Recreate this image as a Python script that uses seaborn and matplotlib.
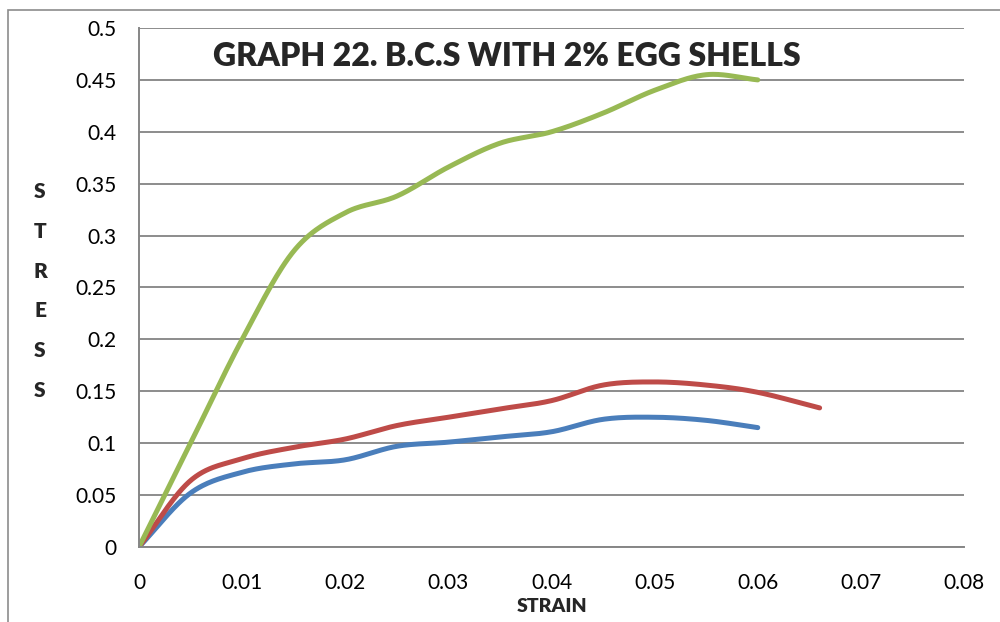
import numpy as np
import pandas as pd
import matplotlib
matplotlib.use("Agg")
import matplotlib.pyplot as plt
import matplotlib.patches as mpatches
import seaborn as sns

# Measured stress-strain readings
strain = [0, 0.005, 0.01, 0.015, 0.02, 0.025, 0.03, 0.035, 0.04, 0.045, 0.05, 0.055, 0.06]
strain_red = strain + [0.066]
stress_blue = [0, 0.052, 0.072, 0.080, 0.084, 0.097, 0.101, 0.106, 0.111, 0.123, 0.125, 0.122, 0.115]
stress_red = [0, 0.064, 0.085, 0.096, 0.104, 0.117, 0.125, 0.133, 0.141, 0.156, 0.159, 0.156, 0.149, 0.134]
stress_green = [0, 0.100, 0.200, 0.285, 0.322, 0.338, 0.366, 0.389, 0.400, 0.418, 0.440, 0.455, 0.450]

series_names = ["Sample 1", "Sample 2", "Sample 3"]
series_colors = ["#4A7EBB", "#BE4B48", "#98B954"]

x_ticks = [0, 0.01, 0.02, 0.03, 0.04, 0.05, 0.06, 0.07, 0.08]
y_ticks = [0, 0.05, 0.1, 0.15, 0.2, 0.25, 0.3, 0.35, 0.4, 0.45, 0.5]
x_tick_labels = ["0", "0.01", "0.02", "0.03", "0.04", "0.05", "0.06", "0.07", "0.08"]
y_tick_labels = ["0", "0.05", "0.1", "0.15", "0.2", "0.25", "0.3", "0.35", "0.4", "0.45", "0.5"]

title_text = "GRAPH 22. B.C.S WITH 2% EGG SHELLS"
x_label = "STRAIN"
y_label = "STRESS"


def smooth_curve(xs, ys, n=30):
    """Catmull-Rom spline through the readings (smoothed line rendering)."""
    p = np.column_stack([xs, ys]).astype(float)
    p = np.vstack([p[0] - (p[1] - p[0]), p, p[-1] + (p[-1] - p[-2])])
    out = []
    t = np.linspace(0, 1, n, endpoint=False)[:, None]
    for i in range(1, len(p) - 2):
        p0, p1, p2, p3 = p[i - 1], p[i], p[i + 1], p[i + 2]
        seg = 0.5 * ((2 * p1) + (-p0 + p2) * t + (2 * p0 - 5 * p1 + 4 * p2 - p3) * t ** 2
                     + (-p0 + 3 * p1 - 3 * p2 + p3) * t ** 3)
        out.append(seg)
    out.append(p[-2][None, :])
    c = np.vstack(out)
    return c[:, 0], c[:, 1]


frames = []
for name, xs, ys in zip(series_names, [strain, strain_red, strain],
                        [stress_blue, stress_red, stress_green]):
    sx, sy = smooth_curve(xs, ys)
    frames.append(pd.DataFrame({"strain": sx, "stress": sy, "series": name,
                                "order": np.arange(len(sx))}))
df = pd.concat(frames, ignore_index=True)

sns.set_theme(style="white")
plt.rcParams["font.family"] = ["Lato", "DejaVu Sans"]

fig = plt.figure(figsize=(10, 6.22), dpi=100)
ax = fig.add_axes([0.139, 0.1206, 0.825, 0.8344])

sns.lineplot(data=df, x="strain", y="stress", hue="series", units="series",
             estimator=None, sort=False, palette=series_colors, linewidth=3.6,
             legend=False, ax=ax, solid_capstyle="round")

ax.set_xlim(0, 0.08)
ax.set_ylim(0, 0.5)
ax.set_xticks(x_ticks)
ax.set_xticklabels(x_tick_labels)
ax.set_yticks(y_ticks)
ax.set_yticklabels(y_tick_labels)
ax.tick_params(axis="both", labelsize=15, colors="#868686", labelcolor="black",
               length=6, width=1.3, direction="out")
ax.tick_params(axis="x", pad=13)
ax.tick_params(axis="y", pad=10)
ax.yaxis.grid(True, color="#8C8C8C", linewidth=1.4)
ax.xaxis.grid(False)
ax.set_axisbelow(True)
for s in ["top", "right"]:
    ax.spines[s].set_visible(False)
for s in ["left", "bottom"]:
    ax.spines[s].set_color("#868686")
    ax.spines[s].set_linewidth(1.4)

ax.set_xlabel(x_label, fontsize=14, fontweight="heavy", labelpad=3)
ax.set_ylabel("")
fig.text(0.040, 0.532, "\n".join(y_label), fontsize=15, fontweight="heavy",
         ha="center", va="center", linespacing=2.3)

ax.text(0.446, 0.946, title_text, transform=ax.transAxes, fontsize=23,
        fontweight="heavy", ha="center", va="center")

# Chart area border
fig.patches.append(mpatches.Rectangle((0.008, -0.1), 1.2, 1.1 - 10 / 622,
                                      transform=fig.transFigure, fill=False,
                                      edgecolor="#8C8C8C", linewidth=1.2))

fig.savefig("out.png", dpi=100)
